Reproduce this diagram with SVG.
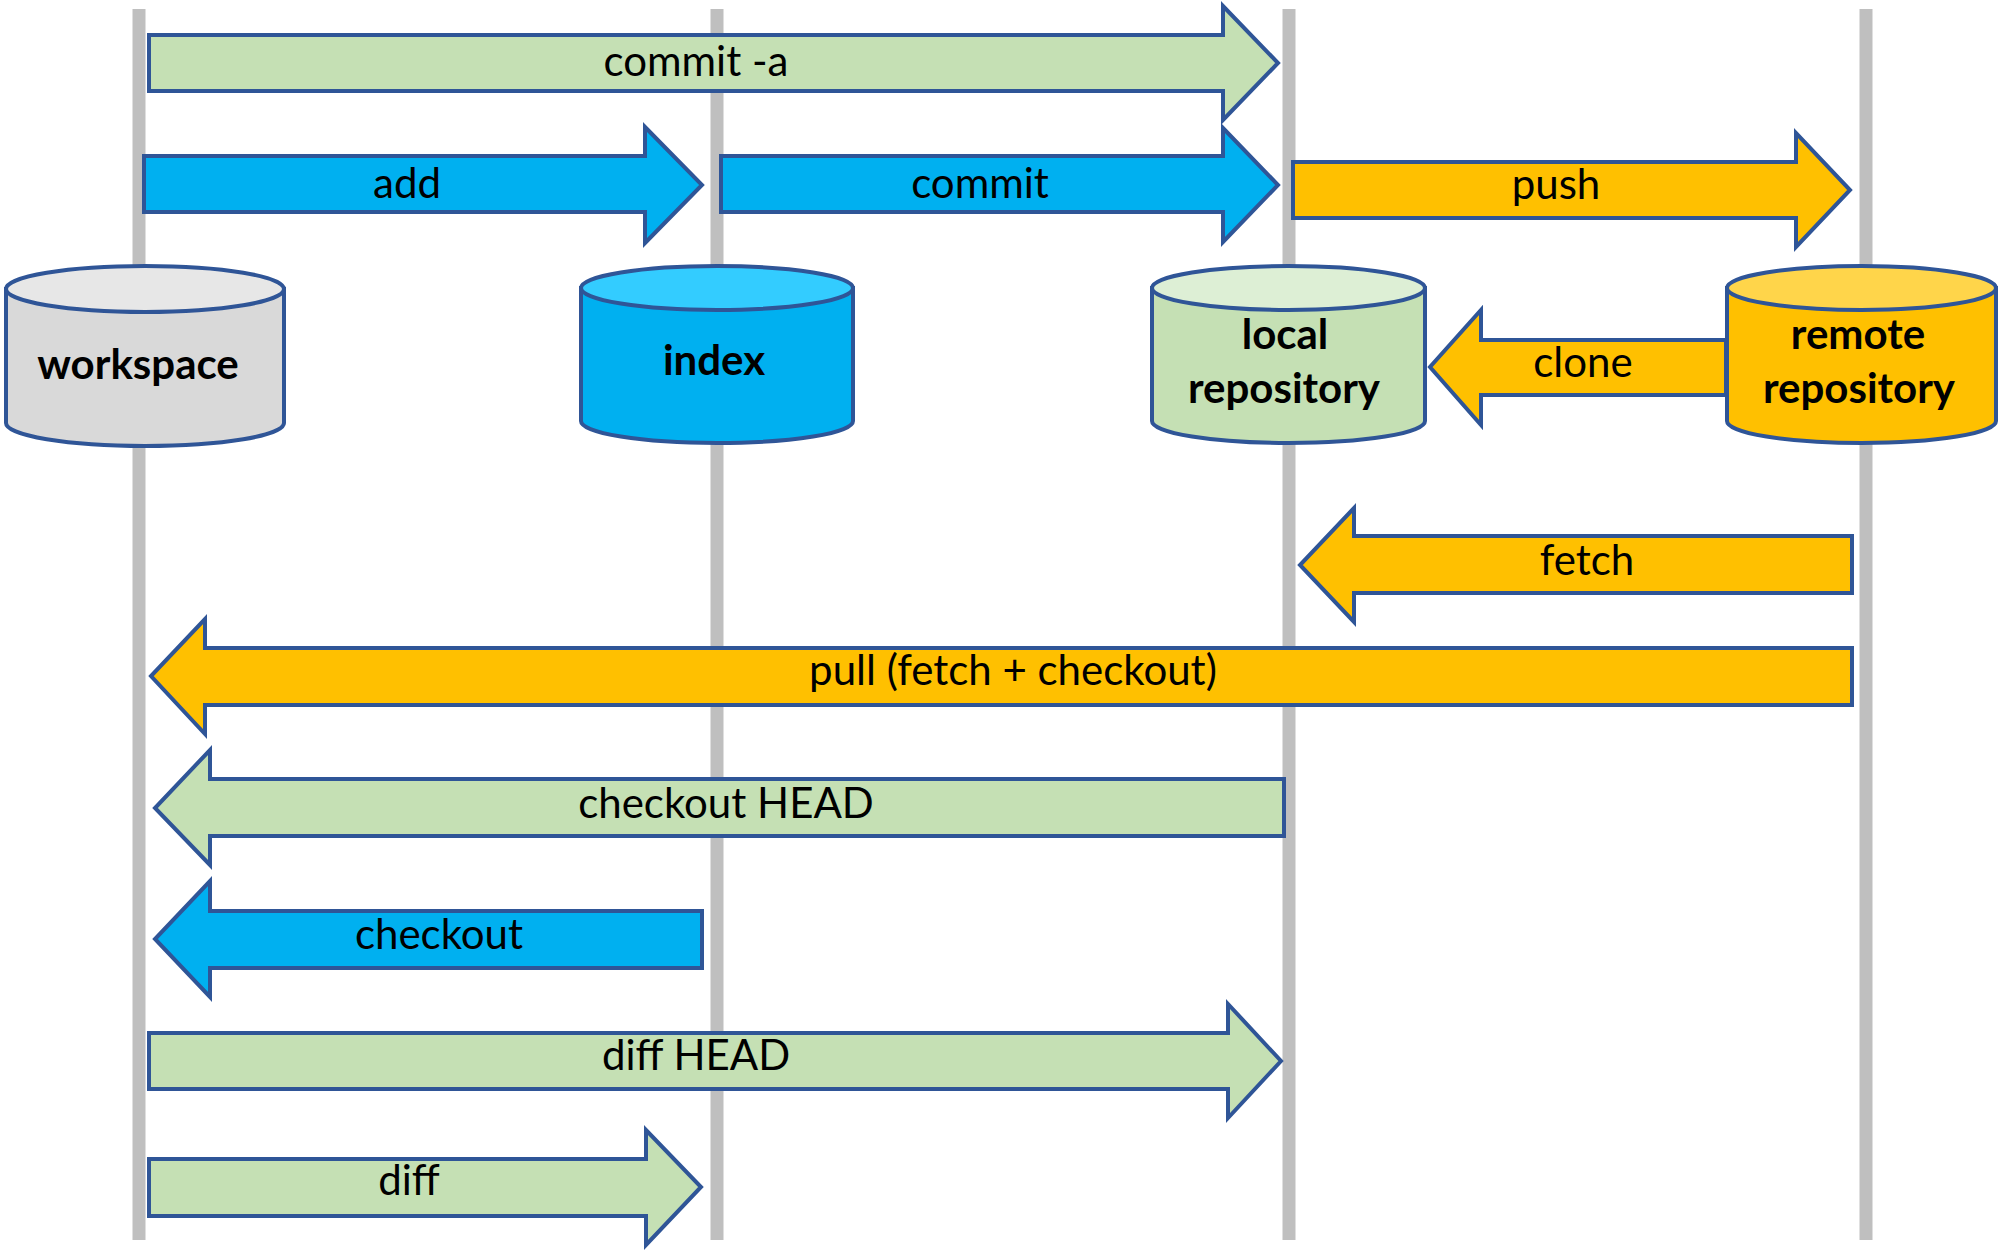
<svg xmlns="http://www.w3.org/2000/svg" width="2000" height="1251" viewBox="0 0 2000 1251">
<style>
.lane{stroke:#BFBFBF;stroke-width:13;fill:none}
.arr{stroke:#2F5597;stroke-width:4;stroke-linejoin:miter}
.green{fill:#C5E0B4}
.blue{fill:#00B0F0}
.orange{fill:#FFC000}
.cyl{stroke:#2F5597;stroke-width:4}
.lbl{font-family:Lato,"Open Sans","Liberation Sans",sans-serif;font-size:42px;fill:#000;text-anchor:middle}
.node{font-family:Lato,"Open Sans","Liberation Sans",sans-serif;font-size:42px;font-weight:bold;fill:#000;text-anchor:middle}
</style>
<rect x="0" y="0" width="2000" height="1251" fill="#FFFFFF"/>
<g id="lanes">
<line class="lane" x1="139" y1="9" x2="139" y2="1240"/>
<line class="lane" x1="717" y1="9" x2="717" y2="1240"/>
<line class="lane" x1="1289" y1="9" x2="1289" y2="1240"/>
<line class="lane" x1="1866" y1="9" x2="1866" y2="1240"/>
</g>
<g id="connectors">
<g id="commit-a">
<polygon class="arr green" points="149,35 1223,35 1223,6 1278,63 1223,120 1223,91 149,91"/>
<text class="lbl" x="696" y="76">commit -a</text>
</g>
<g id="add">
<polygon class="arr blue" points="144,156 645,156 645,127 702,185 645,243 645,212 144,212"/>
<text class="lbl" x="407" y="198">add</text>
</g>
<g id="commit">
<polygon class="arr blue" points="721,156 1223,156 1223,128 1278,185 1223,242 1223,212 721,212"/>
<text class="lbl" x="980" y="198">commit</text>
</g>
<g id="push">
<polygon class="arr orange" points="1293,162 1796,162 1796,133 1850,190 1796,247 1796,218 1293,218"/>
<text class="lbl" x="1556" y="199">push</text>
</g>
<g id="clone">
<polygon class="arr orange" points="1726,340 1481,340 1481,310 1430,367 1481,425 1481,395 1726,395"/>
<text class="lbl" x="1583" y="377">clone</text>
</g>
<g id="fetch">
<polygon class="arr orange" points="1852,536 1354,536 1354,508 1300,565 1354,622 1354,593 1852,593"/>
<text class="lbl" x="1587" y="575">fetch</text>
</g>
<g id="pull">
<polygon class="arr orange" points="1852,648 205,648 205,619 151,676 205,734 205,705 1852,705"/>
<text class="lbl" x="1013" y="685">pull (fetch + checkout)</text>
</g>
<g id="checkout-head">
<polygon class="arr green" points="1284,779 210,779 210,750 155,808 210,865 210,836 1284,836"/>
<text class="lbl" x="726" y="818">checkout HEAD</text>
</g>
<g id="checkout">
<polygon class="arr blue" points="702,911 210,911 210,881 155,939 210,997 210,968 702,968"/>
<text class="lbl" x="439" y="949">checkout</text>
</g>
<g id="diff-head">
<polygon class="arr green" points="149,1033 1228,1033 1228,1004 1281,1061 1228,1118 1228,1089 149,1089"/>
<text class="lbl" x="696" y="1070">diff HEAD</text>
</g>
<g id="diff">
<polygon class="arr green" points="149,1159 646,1159 646,1130 701,1187 646,1245 646,1216 149,1216"/>
<text class="lbl" x="409" y="1195">diff</text>
</g>
</g>
<g id="workspace">
<path class="cyl" fill="#D9D9D9" d="M6,289 L6,423 A139,23 0 0 0 284,423 L284,289 Z"/>
<ellipse class="cyl" fill="#E7E7E7" cx="145" cy="289" rx="139" ry="23"/>
<text class="node" x="138" y="379">workspace</text>
</g>
<g id="index">
<path class="cyl" fill="#00B0F0" d="M581,288 L581,421 A136,22 0 0 0 853,421 L853,288 Z"/>
<ellipse class="cyl" fill="#33CCFF" cx="717" cy="288" rx="136" ry="22"/>
<text class="node" x="714" y="375">index</text>
</g>
<g id="local-repository">
<path class="cyl" fill="#C5E0B4" d="M1152,288 L1152,421 A136.5,22 0 0 0 1425,421 L1425,288 Z"/>
<ellipse class="cyl" fill="#DDEFD5" cx="1288.5" cy="288" rx="136.5" ry="22"/>
<text class="node" x="1285" y="349">local</text>
<text class="node" x="1284" y="403">repository</text>
</g>
<g id="remote-repository">
<path class="cyl" fill="#FFC000" d="M1727,288 L1727,421 A134.5,22 0 0 0 1996,421 L1996,288 Z"/>
<ellipse class="cyl" fill="#FFD54A" cx="1861.5" cy="288" rx="134.5" ry="22"/>
<text class="node" x="1858" y="349">remote</text>
<text class="node" x="1859" y="403">repository</text>
</g>
</svg>
